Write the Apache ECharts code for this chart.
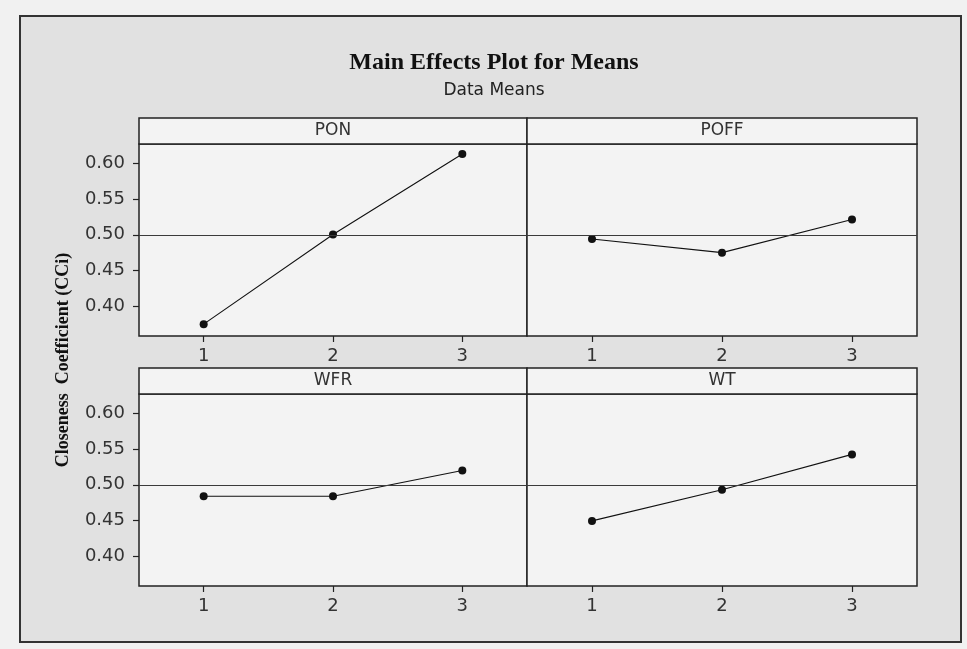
<!DOCTYPE html>
<html>
<head>
<meta charset="utf-8">
<title>Main Effects Plot for Means</title>
<script src="https://cdn.jsdelivr.net/npm/echarts@6/dist/echarts.min.js"></script>
<style>
  html, body { margin: 0; padding: 0; background: #f1f1f1; }
  #chart { width: 967px; height: 649px; }
</style>
</head>
<body>
<div id="chart"></div>
<script>
// Factor names and their levels
const factors = ['PON', 'POFF', 'WFR', 'WT'];
const levels = [1, 2, 3];

// Mean Closeness Coefficient at each level
const ponMeans  = [0.375, 0.5005, 0.613];
const poffMeans = [0.494, 0.475, 0.5215];
const wfrMeans  = [0.484, 0.484, 0.520];
const wtMeans   = [0.4495, 0.493, 0.5425];

// Overall mean of the data (reference line)
const grandMean = 0.4957;

// Axis tick labels
const yTicks = [0.40, 0.45, 0.50, 0.55, 0.60];
const xTicks = [1, 2, 3];

const seriesData = [ponMeans, poffMeans, wfrMeans, wtMeans];

// Panel layout (2 x 2)
const colLeft = [139, 527];
const colWidth = [388, 390];
const rowTop = [144, 394];
const plotHeight = 192;
const headerHeight = 26;

const grids = [], xAxes = [], yAxes = [], series = [], graphics = [];
const sansFont = 'DejaVu Sans';

// Outer frame
graphics.push({
  type: 'rect', z: -10,
  shape: { x: 20, y: 16, width: 941, height: 626 },
  style: { fill: '#e1e1e1', stroke: '#333', lineWidth: 2 }
});

factors.forEach((name, i) => {
  const col = i % 2, row = Math.floor(i / 2);
  grids.push({
    left: colLeft[col], top: rowTop[row], width: colWidth[col], height: plotHeight,
    show: true, backgroundColor: '#f3f3f3', borderColor: '#222', borderWidth: 1.5
  });
  xAxes.push({
    type: 'value', gridIndex: i, min: 0.5, max: 3.5,
    axisLine: { show: false },
    axisTick: { show: true, inside: false, length: 6, customValues: xTicks,
                lineStyle: { color: '#222', width: 1.2 } },
    axisLabel: { show: true, customValues: xTicks, margin: 11,
                 fontFamily: sansFont, fontSize: 18, color: '#333' },
    splitLine: { show: false }
  });
  yAxes.push({
    type: 'value', gridIndex: i, min: 0.3584, max: 0.627,
    axisLine: { show: false },
    axisTick: { show: col === 0, inside: false, length: 6, customValues: yTicks,
                lineStyle: { color: '#222', width: 1.2 } },
    axisLabel: { show: col === 0, customValues: yTicks, margin: 14,
                 fontFamily: sansFont, fontSize: 18, color: '#333',
                 formatter: v => v.toFixed(2) },
    splitLine: { show: false }
  });
  series.push({
    type: 'line', xAxisIndex: i, yAxisIndex: i,
    data: levels.map((lv, k) => [lv, seriesData[i][k]]),
    symbol: 'circle', symbolSize: 8,
    itemStyle: { color: '#111' },
    lineStyle: { color: '#111', width: 1.1 },
    markLine: {
      silent: true, symbol: 'none', label: { show: false },
      lineStyle: { color: '#3a3a3a', width: 1.2, type: 'solid' },
      data: [{ yAxis: grandMean }]
    },
    animation: false
  });
  // Panel header strip with factor name
  graphics.push({
    type: 'rect',
    shape: { x: colLeft[col], y: rowTop[row] - headerHeight, width: colWidth[col], height: headerHeight },
    style: { fill: '#f3f3f3', stroke: '#222', lineWidth: 1.5 }
  });
  graphics.push({
    type: 'text',
    x: colLeft[col] + colWidth[col] / 2, y: rowTop[row] - headerHeight / 2,
    style: { text: name, fill: '#333', font: '17px "' + sansFont + '"',
             textAlign: 'center', textVerticalAlign: 'middle' }
  });
});

// Shared y-axis title
graphics.push({
  type: 'text', x: 63, y: 360, rotation: Math.PI / 2,
  style: { text: 'Closeness  Coefficient (CCi)', fill: '#111',
           font: 'bold 18px "Liberation Serif"',
           textAlign: 'center', textVerticalAlign: 'middle' }
});

const chart = echarts.init(document.getElementById('chart'));
chart.setOption({
  animation: false,
  backgroundColor: '#f1f1f1',
  title: {
    text: 'Main Effects Plot for Means',
    subtext: 'Data Means',
    left: 489, top: 46, textAlign: 'center', itemGap: 7,
    textStyle: { fontFamily: 'Liberation Serif', fontWeight: 'bold', fontSize: 24, color: '#111' },
    subtextStyle: { fontFamily: sansFont, fontSize: 17, color: '#222' }
  },
  grid: grids,
  xAxis: xAxes,
  yAxis: yAxes,
  series: series,
  graphic: graphics
});
</script>
</body>
</html>
